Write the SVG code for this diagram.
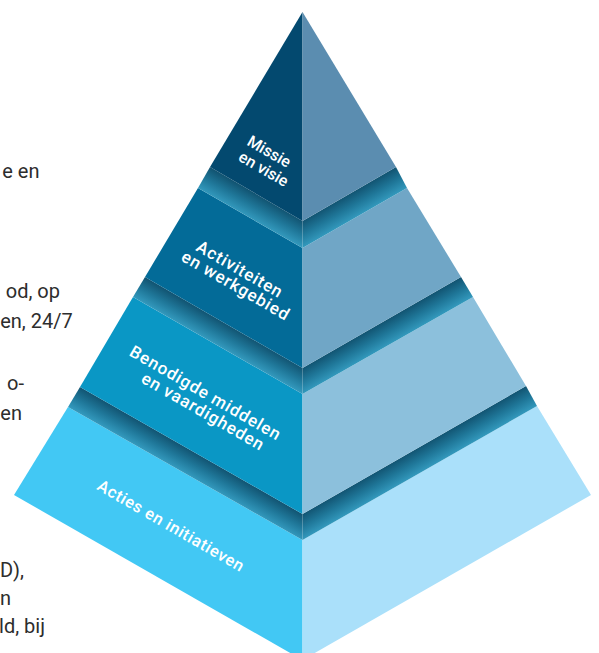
<svg xmlns="http://www.w3.org/2000/svg" width="599" height="653" viewBox="0 0 599 653">
<style>
.lbl{font-family:Roboto,"Liberation Sans",sans-serif;font-weight:500;font-size:17px;fill:#ffffff;letter-spacing:0.9px}
.side{font-family:Roboto,"Liberation Sans",sans-serif;font-size:20px;fill:#2d2d2d}
.s0{stop-color:#3399bd}
.s1{stop-color:#1f7799}
.s2{stop-color:#125573}
</style>
<defs>
<linearGradient id="g2l" gradientUnits="userSpaceOnUse" x1="250" y1="218" x2="261.6" y2="197.7"><stop offset="0" class="s0"/><stop offset="0.5" class="s1"/><stop offset="1" class="s2"/></linearGradient>
<linearGradient id="g2r" gradientUnits="userSpaceOnUse" x1="355" y1="218" x2="343.4" y2="197.7"><stop offset="0" class="s0"/><stop offset="0.5" class="s1"/><stop offset="1" class="s2"/></linearGradient>
<linearGradient id="g3l" gradientUnits="userSpaceOnUse" x1="217.8" y1="345.5" x2="229" y2="325.9"><stop offset="0" class="s0"/><stop offset="0.5" class="s1"/><stop offset="1" class="s2"/></linearGradient>
<linearGradient id="g3r" gradientUnits="userSpaceOnUse" x1="387.8" y1="345.5" x2="376.6" y2="325.9"><stop offset="0" class="s0"/><stop offset="0.5" class="s1"/><stop offset="1" class="s2"/></linearGradient>
<linearGradient id="g4l" gradientUnits="userSpaceOnUse" x1="185.3" y1="473.5" x2="196.5" y2="453.9"><stop offset="0" class="s0"/><stop offset="0.5" class="s1"/><stop offset="1" class="s2"/></linearGradient>
<linearGradient id="g4r" gradientUnits="userSpaceOnUse" x1="419.8" y1="473" x2="408.6" y2="453.4"><stop offset="0" class="s0"/><stop offset="0.5" class="s1"/><stop offset="1" class="s2"/></linearGradient>
</defs>
<rect width="599" height="653" fill="#ffffff"/>
<g id="side-text">
<text class="side" x="39.5" y="178" text-anchor="end">e en</text>
<text class="side" x="60" y="298" text-anchor="end">od, op</text>
<text class="side" x="72.7" y="328" text-anchor="end">en, 24/7</text>
<text class="side" x="24" y="390" text-anchor="end">o-</text>
<text class="side" x="22" y="420" text-anchor="end">en</text>
<text class="side" x="24" y="577" text-anchor="end">D),</text>
<text class="side" x="11" y="605" text-anchor="end">n</text>
<text class="side" x="45" y="633" text-anchor="end">ld, bij</text>
</g>
<g id="tier4">
<polygon points="68,407 302.5,540 302.5,660 14,495" fill="#42c8f4"/>
<polygon points="302.5,540 537,406 591,495 302.5,660" fill="#aae0fa"/>
<polygon points="80,387 68,407 302.5,540 302.5,514" fill="url(#g4l)"/>
<polygon points="302.5,514 302.5,540 537,406 526,386" fill="url(#g4r)"/>
<text class="lbl" transform="translate(96,489) rotate(30)" style="font-size:16.5px;letter-spacing:0.6px">Acties en initiatieven</text>
</g>
<g id="tier3">
<polygon points="133,297 302.5,394 302.5,514 80,387" fill="#0a97c5"/>
<polygon points="302.5,394 473,297 526,386 302.5,514" fill="#8cc0dc"/>
<polygon points="145,277 133,297 302.5,394 302.5,368" fill="url(#g3l)"/>
<polygon points="302.5,368 302.5,394 473,297 461,277" fill="url(#g3r)"/>
<text class="lbl" transform="translate(128.3,355) rotate(30)">Benodigde middelen</text>
<text class="lbl" transform="translate(140,381.7) rotate(30)">en vaardigheden</text>
</g>
<g id="tier2">
<polygon points="198,188 302.5,248 302.5,368 145,277" fill="#036b98"/>
<polygon points="302.5,248 407,188 461,277 302.5,368" fill="#70a6c6"/>
<polygon points="210,167 198,188 302.5,248 302.5,221" fill="url(#g2l)"/>
<polygon points="302.5,221 302.5,248 407,188 396,167" fill="url(#g2r)"/>
<text class="lbl" transform="translate(195,250) rotate(30)">Activiteiten</text>
<text class="lbl" transform="translate(180,260) rotate(30)">en werkgebied</text>
</g>
<g id="tier1">
<polygon points="302.5,12 210,167 302.5,221" fill="#03496f"/>
<polygon points="302.5,12 302.5,221 396,167" fill="#5b8db0"/>
<text class="lbl" transform="translate(246,144.5) rotate(30)" style="font-size:16px;letter-spacing:0">Missie</text>
<text class="lbl" transform="translate(237.3,160) rotate(30)" style="font-size:16px;letter-spacing:0">en visie</text>
</g>
<g id="connectors"/>
</svg>
